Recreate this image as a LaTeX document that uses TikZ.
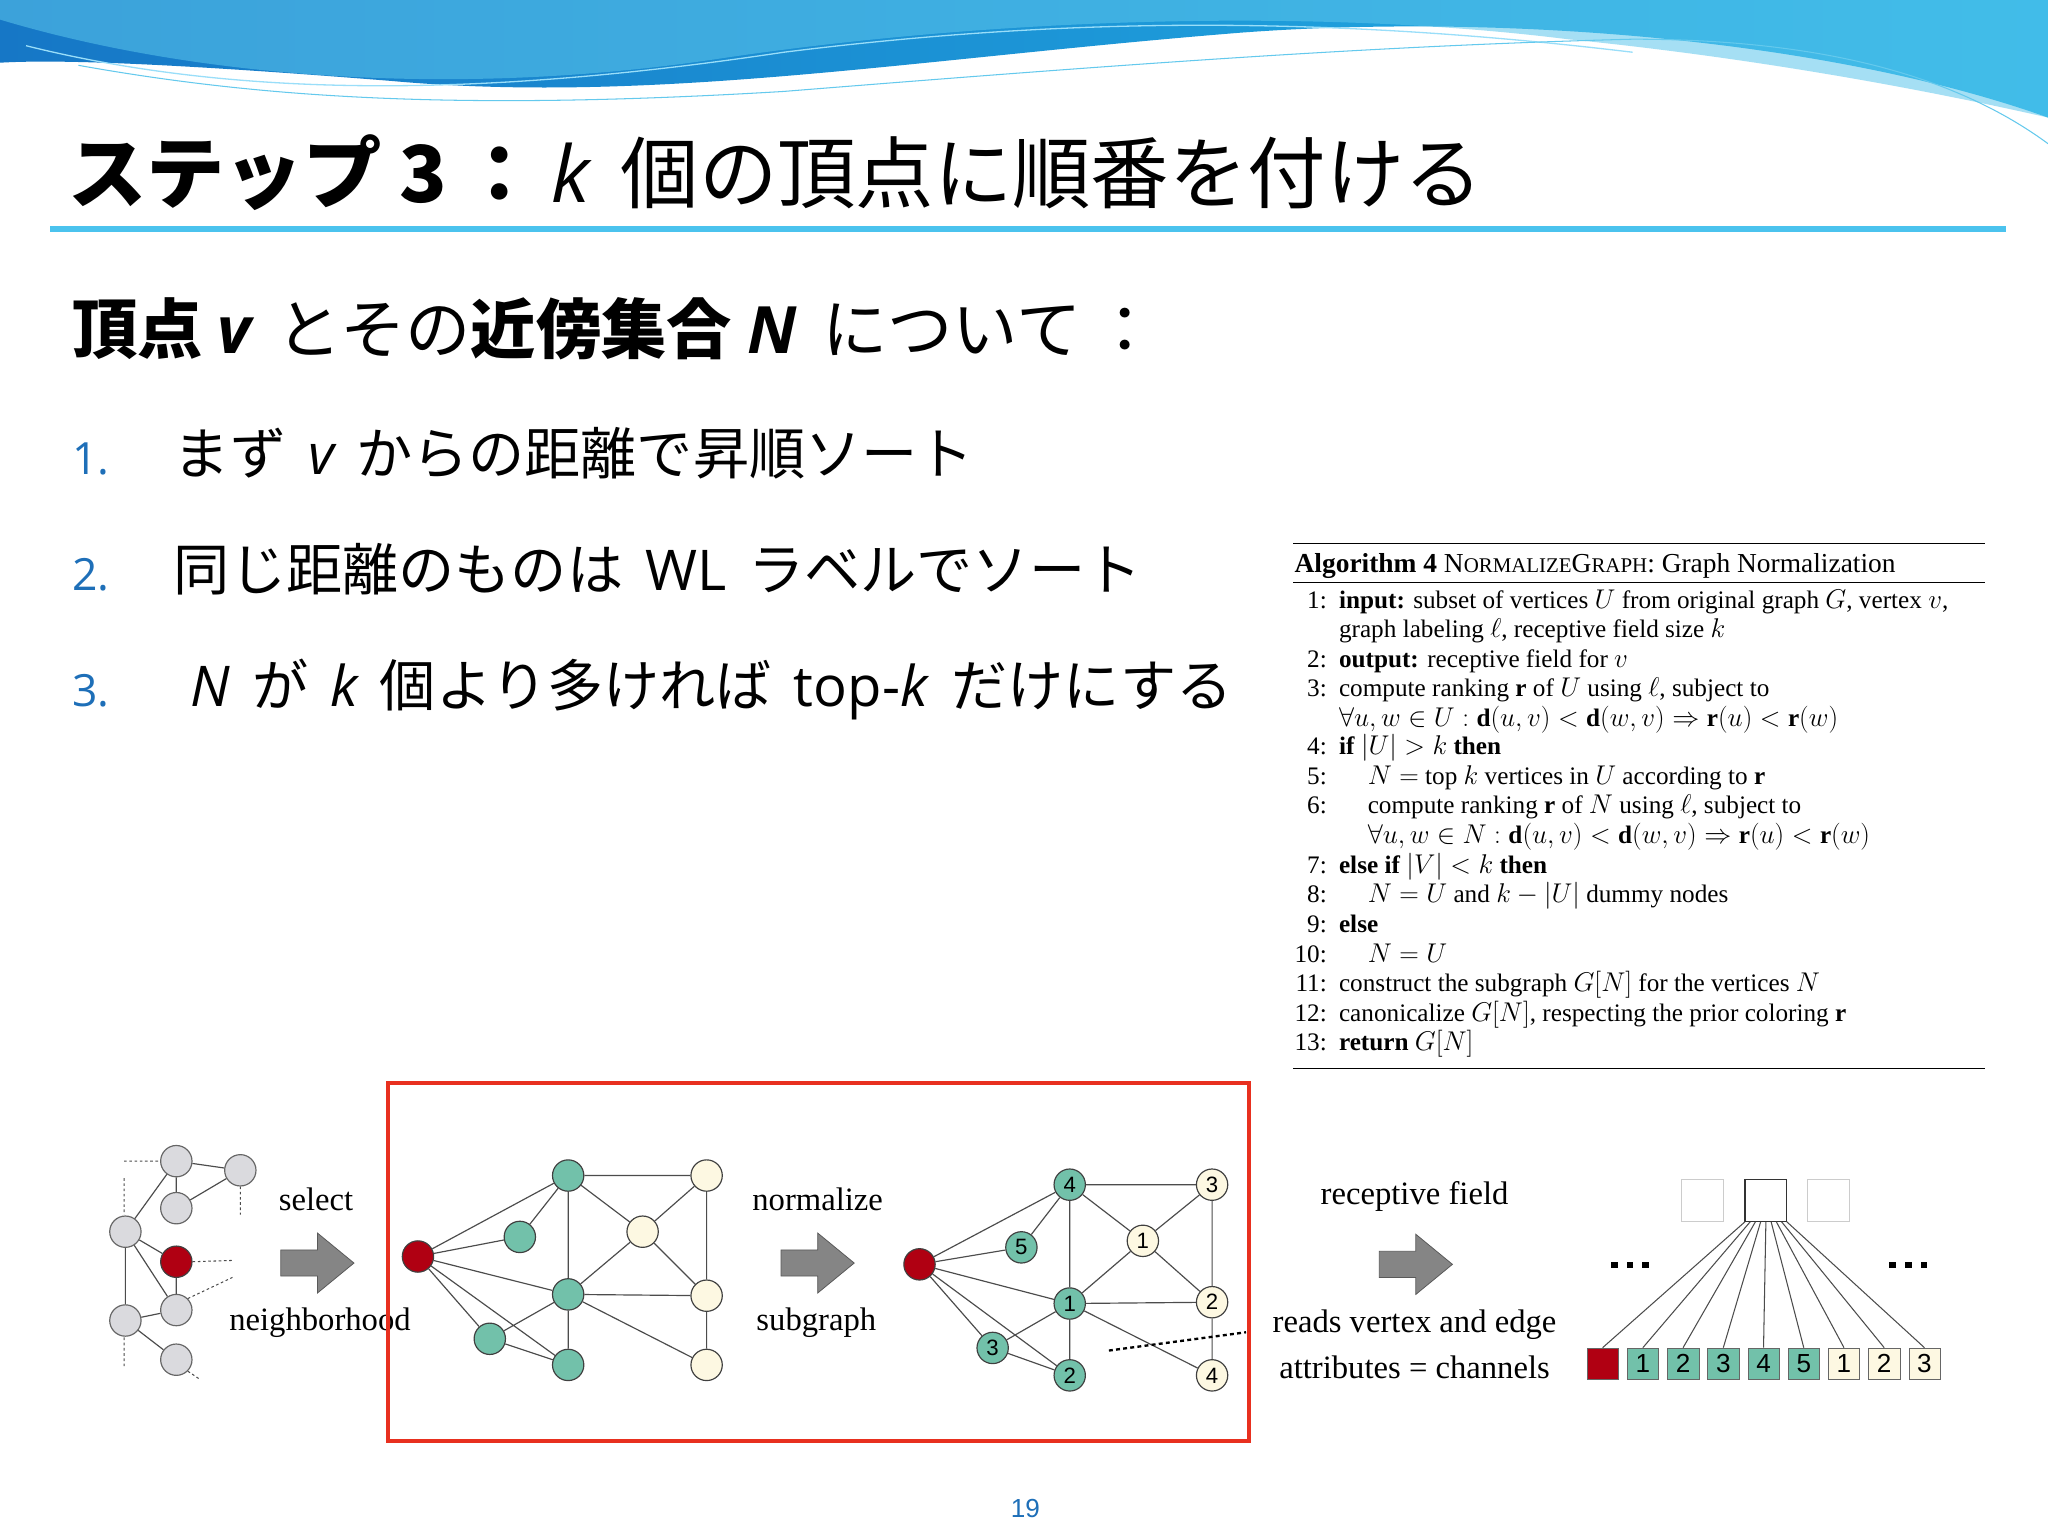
\documentclass[tikz,border=0pt]{standalone}
\usepackage{amsmath,amssymb}
\usepackage{fontspec}
\setmainfont{Liberation Serif}
\newfontfamily\jp{Noto Sans CJK JP}
\newfontfamily\lat{Open Sans}
\newfontfamily\sns{Liberation Sans}
\usetikzlibrary{shapes.geometric}
\definecolor{tealc}{HTML}{72C1AA}
\definecolor{creamc}{HTML}{FDF8E2}
\definecolor{redc}{HTML}{B00012}
\definecolor{grayc}{HTML}{DADADE}
\definecolor{listblue}{HTML}{1E6FB8}
\definecolor{lineblue}{HTML}{4BC3EE}
\definecolor{boxred}{HTML}{E8301F}
\definecolor{waveA}{HTML}{1677C6}
\definecolor{waveB}{HTML}{22B2E6}
\definecolor{waveC}{HTML}{5CC6EC}
\begin{document}
\begin{tikzpicture}[x=1pt,y=-1pt,
  vtx/.style={circle,draw=black!75,line width=0.9pt,minimum size=24pt,inner sep=0pt,font=\sns\fontsize{17}{17}\selectfont},
  gv/.style={vtx,fill=grayc,draw=black!60},
  rv/.style={vtx,fill=redc},
  tv/.style={vtx,fill=tealc},
  yv/.style={vtx,fill=creamc},
  edg/.style={draw=black!70,line width=0.9pt},
  dsh/.style={draw=black!70,line width=0.8pt,dash pattern=on 2pt off 2pt},
  lbl/.style={font=\fontsize{25}{27}\selectfont,inner sep=0pt},
  alg/.style={anchor=base west,inner sep=0pt,font=\fontsize{19.3}{21}\selectfont},
  algn/.style={anchor=base east,inner sep=0pt,font=\fontsize{19.3}{21}\selectfont},
  cell/.style={draw=black!60,minimum width=24pt,minimum height=24pt,inner sep=0pt,font=\sns\fontsize{20}{20}\selectfont},
  blk/.style={fill=black!48,draw=black!65,line width=0.6pt},
  jtxt/.style={anchor=base west,inner sep=0pt,font=\jp\fontsize{43}{45}\selectfont}
]
\useasboundingbox (0,0) rectangle (1568,1176);
\fill[white] (0,0) rectangle (1568,1176);
% top wave
\shade[left color=waveA,right color=waveB] (0,0) -- (1568,0) -- (1568,90) .. controls (1400,30) and (1150,10) .. (950,25) .. controls (700,45) and (500,80) .. (300,62) .. controls (150,50) and (50,45) .. (0,48) -- cycle;
\fill[waveC,opacity=0.55] (0,15) .. controls (150,60) and (350,75) .. (550,45) .. controls (750,15) and (1000,5) .. (1200,30) .. controls (1350,45) and (1480,70) .. (1568,90) -- (1568,0) -- (0,0) -- cycle;
\draw[white!60!cyan,line width=1pt] (20,35) .. controls (200,80) and (400,70) .. (600,40) .. controls (800,15) and (1000,10) .. (1250,40);
\draw[waveB!70,line width=0.8pt] (60,50) .. controls (200,75) and (350,85) .. (600,70) .. controls (850,50) and (1050,35) .. (1250,30) .. controls (1400,30) and (1500,60) .. (1568,110);
% title
\node[anchor=base west,inner sep=0pt] (title) at (52,155) {\fontsize{60}{62}\selectfont\jp\bfseries ステップ 3\,：\,{\lat\mdseries\itshape k}\mdseries\ \,個の頂点に順番を付ける};
\fill[lineblue] (38,173) rectangle (1536,178);
% subtitle
\node[anchor=base west,inner sep=0pt] (sub) at (55,271) {\fontsize{50}{52}\selectfont\jp{\bfseries 頂点 {\lat\itshape v} }\,とその{\bfseries 近傍集合 {\lat\itshape N} }\,について\,：};
% list
\node[anchor=base west,inner sep=0pt,text=listblue,font=\lat\fontsize{34}{36}\selectfont] (n1) at (55,363) {1.};
\node[anchor=base west,inner sep=0pt,text=listblue,font=\lat\fontsize{34}{36}\selectfont] (n2) at (55,452) {2.};
\node[anchor=base west,inner sep=0pt,text=listblue,font=\lat\fontsize{34}{36}\selectfont] (n3) at (55,541) {3.};
\node[jtxt] (l1) at (133,363) {まず\, {\lat\itshape v}\, からの距離で昇順ソート};
\node[jtxt] (l2) at (133,452) {同じ距離のものは\, {\lat WL}\, ラベルでソート};
\node[jtxt] (l3) at (146,541) {{\lat\itshape N}\, が\, {\lat\itshape k}\, 個より多ければ\, {\lat top-\textit{k}}\, だけにする};
% algorithm
\draw[line width=1.2pt] (990,416) -- (1520,416);
\draw[line width=0.8pt] (990,446) -- (1520,446);
\draw[line width=1.2pt] (990,818) -- (1520,818);
\node[alg,font=\fontsize{21}{22}\selectfont] (cap) at (991,438) {\textbf{Algorithm 4} N{\fontsize{16}{16}\selectfont ORMALIZE}G{\fontsize{16}{16}\selectfont RAPH}: Graph Normalization};
\node[algn] at (1016,466) {1:}; \node[alg] (a1) at (1025,466) {\textbf{input:} subset of vertices $U$ from original graph $G$, vertex $v$,};
\node[alg] at (1025,488) {graph labeling $\ell$, receptive field size $k$};
\node[algn] at (1016,511) {2:}; \node[alg] at (1025,511) {\textbf{output:} receptive field for $v$};
\node[algn] at (1016,533) {3:}; \node[alg] at (1025,533) {compute ranking $\mathbf{r}$ of $U$ using $\ell$, subject to};
\node[alg] at (1025,556) {$\forall u,w\in U:\mathbf{d}(u,v)<\mathbf{d}(w,v)\Rightarrow\mathbf{r}(u)<\mathbf{r}(w)$};
\node[algn] at (1016,578) {4:}; \node[alg] at (1025,578) {\textbf{if} $|U|>k$ \textbf{then}};
\node[algn] at (1016,601) {5:}; \node[alg] at (1047,601) {$N=$ top $k$ vertices in $U$ according to $\mathbf{r}$};
\node[algn] at (1016,623) {6:}; \node[alg] at (1047,623) {compute ranking $\mathbf{r}$ of $N$ using $\ell$, subject to};
\node[alg] at (1047,646) {$\forall u,w\in N:\mathbf{d}(u,v)<\mathbf{d}(w,v)\Rightarrow\mathbf{r}(u)<\mathbf{r}(w)$};
\node[algn] at (1016,669) {7:}; \node[alg] at (1025,669) {\textbf{else if} $|V|<k$ \textbf{then}};
\node[algn] at (1016,691) {8:}; \node[alg] at (1047,691) {$N=U$ and $k-|U|$ dummy nodes};
\node[algn] at (1016,714) {9:}; \node[alg] at (1025,714) {\textbf{else}};
\node[algn] at (1016,737) {10:}; \node[alg] at (1047,737) {$N=U$};
\node[algn] at (1016,759) {11:}; \node[alg] at (1025,759) {construct the subgraph $G[N]$ for the vertices $N$};
\node[algn] at (1016,782) {12:}; \node[alg] at (1025,782) {canonicalize $G[N]$, respecting the prior coloring $\mathbf{r}$};
\node[algn] at (1016,804) {13:}; \node[alg] at (1025,804) {\textbf{return} $G[N]$};
% left graph
\node[gv] (T) at (135,889) {};
\node[gv] (TR) at (184,896) {};
\node[gv] (M1) at (135,925) {};
\node[gv] (L1) at (96,943) {};
\node[rv] (R0) at (135,966) {};
\node[gv] (B1) at (135,1003) {};
\node[gv] (L2) at (96,1011) {};
\node[gv] (B2) at (135,1041) {};
\draw[edg] (T)--(TR) (T)--(M1) (TR)--(M1) (L1)--(T) (L1)--(R0) (L1)--(B1) (L1)--(L2) (R0)--(B1) (L2)--(B1) (L2)--(B2);
\coordinate (d1) at (95,889); \coordinate (d2) at (95,902); \coordinate (d3) at (95,930);
\coordinate (d4) at (95,1024); \coordinate (d5) at (95,1046);
\coordinate (d6) at (184,930); \coordinate (d7) at (178,965); \coordinate (d8) at (178,978); \coordinate (d9) at (153,1056);
\draw[dsh] (d1)--(T.west) (d2)--(d3) (d4)--(d5) (TR.south)--(d6) (R0.east)--(d7) (B1.north east)--(d8) (B2.south east)--(d9);
\node[lbl] (sel) at (242,918) {select};
\node[lbl] (nbh) at (245,1013) {neighborhood};
\draw[blk] (215,957) -- (243,957) -- (243,944) -- (271,967) -- (243,990) -- (243,977) -- (215,977) -- cycle;
% red box
\draw[boxred,line width=3pt] (297,829) rectangle (956,1103);
% middle graph
\node[rv] (mr) at (320,962) {};
\node[tv] (g1) at (435,900) {};
\node[tv] (g2) at (398,947) {};
\node[tv] (g3) at (435,991) {};
\node[tv] (g4) at (375,1025) {};
\node[tv] (g5) at (435,1045) {};
\node[yv] (y1) at (541,900) {};
\node[yv] (y2) at (492,943) {};
\node[yv] (y3) at (541,992) {};
\node[yv] (y4) at (541,1045) {};
\draw[edg] (mr)--(g1) (mr)--(g2) (mr)--(g3) (mr)--(g4) (mr)--(g5) (g2)--(g1) (g1)--(y1) (g1)--(g3) (g1)--(y2) (y1)--(y2) (y1)--(y3) (y2)--(g3) (y2)--(y3) (g3)--(y3) (g3)--(y4) (g3)--(g4) (g3)--(g5) (g4)--(g5) (y3)--(y4);
\node[lbl] (nrm) at (626,918) {normalize};
\node[lbl] (sbg) at (625,1013) {subgraph};
\draw[blk] (598,957) -- (626,957) -- (626,944) -- (654,967) -- (626,990) -- (626,977) -- (598,977) -- cycle;
% right graph
\node[rv] (rr) at (704,968) {};
\node[tv] (t4) at (819,907) {4};
\node[tv] (t5) at (782,955) {5};
\node[tv] (t1) at (819,998) {1};
\node[tv] (t3) at (760,1032) {3};
\node[tv] (t2) at (819,1053) {2};
\node[yv] (c3) at (928,907) {3};
\node[yv] (c1) at (875,950) {1};
\node[yv] (c2) at (928,997) {2};
\node[yv] (c4) at (928,1053) {4};
\draw[edg] (rr)--(t4) (rr)--(t5) (rr)--(t1) (rr)--(t3) (rr)--(t2) (t5)--(t4) (t4)--(c3) (t4)--(t1) (t4)--(c1) (c3)--(c1) (c3)--(c2) (c1)--(t1) (c1)--(c2) (t1)--(c2) (t1)--(c4) (t1)--(t3) (t1)--(t2) (t3)--(t2) (c2)--(c4);
\coordinate (q1) at (849,1034); \coordinate (q2) at (954,1020);
\draw[draw=black,line width=1.8pt,dash pattern=on 3pt off 2.5pt] (q1)--(q2);
% right part
\node[lbl] (rf) at (1083,916) {receptive field};
\draw[blk] (1056,958) -- (1084,958) -- (1084,945) -- (1112,968) -- (1084,991) -- (1084,978) -- (1056,978) -- cycle;
\node[lbl] (rv1) at (1083,1014) {reads vertex and edge};
\node[lbl] (rv2) at (1083,1047) {attributes = channels};
\node[draw=black!20,minimum width=32pt,minimum height=32pt,inner sep=0pt] (bl) at (1303,919) {};
\node[draw=black!80,line width=0.8pt,minimum width=32pt,minimum height=32pt,inner sep=0pt] (bc) at (1352,919) {};
\node[draw=black!20,minimum width=32pt,minimum height=32pt,inner sep=0pt] (br) at (1400,919) {};
\node[cell,fill=redc] (c0) at (1227,1044) {};
\foreach \i/\t/\c in {1/1/tealc,2/2/tealc,3/3/tealc,4/4/tealc,5/5/tealc,6/1/creamc,7/2/creamc,8/3/creamc}{
  \node[cell,fill=\c] (cc\i) at (1227+30.8*\i,1044) {\t};
}
\foreach \n/\s in {c0/-16,cc1/-12,cc2/-8,cc3/-4,cc4/0,cc5/4,cc6/8,cc7/12,cc8/16}{
  \draw[edg,line width=0.8pt] ([xshift=\s pt]bc.south) -- (\n.north);
}
\foreach \x in {1236,1248,1260,1449,1461,1473}{
  \fill (\x-2.5,966) rectangle (\x+2.5,971);
}
% page number
\node[text=listblue,font=\sns\fontsize{20}{20}\selectfont] (pg) at (785,1155) {19};
\end{tikzpicture}
\end{document}
